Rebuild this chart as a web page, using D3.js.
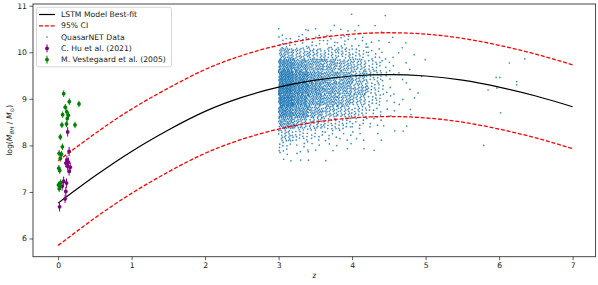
<!DOCTYPE html>
<html>
<head>
<meta charset="utf-8">
<script src="https://cdn.jsdelivr.net/npm/d3@7"></script>
<style>
  body { margin: 0; background: #fff; }
  svg { display: block; font-family: "DejaVu Sans", sans-serif; }
</style>
</head>
<body>
<svg id="chart" width="598" height="285"></svg>
<script>
// model curve, sampled every 0.5 in z
var zGrid = [0, 0.5, 1, 1.5, 2, 2.5, 3, 3.5, 4, 4.5, 5, 5.5, 6, 6.5, 7];
var bestFit = [6.76, 7.34, 7.87, 8.33, 8.73, 9.03, 9.25, 9.40, 9.49, 9.52, 9.49, 9.40, 9.25, 9.06, 8.83];
var ciUpper = [7.67, 8.25, 8.78, 9.23, 9.63, 9.93, 10.15, 10.30, 10.39, 10.42, 10.39, 10.30, 10.15, 9.96, 9.73];
var ciLower = [5.85, 6.44, 6.97, 7.43, 7.83, 8.13, 8.35, 8.50, 8.59, 8.62, 8.59, 8.50, 8.35, 8.16, 7.93];

// QuasarNET cloud, counts per cell (one row per z bin, mass bins top -> bottom)
var cloudZEdges = [3.0, 3.2, 3.4, 3.6, 3.8, 4.0, 4.2, 4.4, 4.6, 4.8, 5.0];
var cloudMEdges = [10.85, 10.6, 10.35, 10.1, 9.85, 9.6, 9.35, 9.1, 8.85, 8.6, 8.35, 8.1, 7.85, 7.6];
var cloudCounts = [
  [0, 2, 10, 42, 85, 115, 125, 118, 92, 58, 26, 10, 4],
  [0, 2, 8, 30, 62, 88, 92, 86, 66, 36, 15, 6, 2],
  [0, 3, 8, 25, 48, 65, 68, 62, 45, 25, 10, 4, 1],
  [0, 3, 8, 22, 42, 52, 55, 48, 34, 18, 7, 3, 1],
  [1, 3, 8, 20, 38, 46, 46, 40, 28, 14, 5, 2, 0],
  [0, 2, 6, 15, 28, 34, 34, 28, 18, 9, 4, 1, 0],
  [0, 1, 3, 8, 14, 17, 17, 14, 9, 5, 2, 1, 0],
  [1, 1, 2, 3, 5, 5, 5, 4, 3, 1, 1, 0, 0],
  [0, 0, 1, 2, 2, 2, 2, 2, 1, 1, 1, 0, 0],
  [0, 0, 0, 1, 1, 1, 1, 1, 1, 0, 0, 0, 0]
];
// lone QuasarNET points past the main cloud
var outlierZ = [5.79, 5.85, 5.96, 5.97, 6.01, 6.02, 6.14, 6.24, 6.24, 6.35];
var outlierM = [8.00, 9.19, 9.46, 9.23, 9.46, 8.70, 9.77, 9.37, 9.30, 9.86];

// C. Hu et al. (2021)
var huZ = [0.130, 0.150, 0.120, 0.105, 0.140, 0.130, 0.165, 0.150, 0.075, 0.115, 0.055, 0.105, 0.095, 0.020];
var huM = [8.29, 7.87, 7.69, 7.62, 7.64, 7.55, 7.53, 7.44, 7.23, 7.19, 7.12, 7.01, 6.85, 6.68];
var huErr = [0.10, 0.10, 0.09, 0.09, 0.10, 0.09, 0.10, 0.09, 0.10, 0.10, 0.09, 0.10, 0.09, 0.10];

// M. Vestegaard et al. (2005)
var vestZ = [0.076, 0.152, 0.284, 0.098, 0.118, 0.062, 0.140, 0.125, 0.052, 0.115, 0.230, 0.030, 0.058, 0.015, 0.045, 0.030, 0.010, 0.022, 0.005, 0.025, 0.015, 0.035];
var vestM = [9.11, 8.94, 8.89, 8.82, 8.72, 8.66, 8.65, 8.58, 8.44, 8.46, 8.44, 8.18, 7.97, 7.83, 7.81, 7.72, 7.51, 7.46, 7.15, 7.11, 7.07, 7.20];
var vestErr = 0.07;

var xTicks = [0, 1, 2, 3, 4, 5, 6, 7];
var yTicks = [6, 7, 8, 9, 10, 11];

var plotLeft = 33, plotRight = 595.6, plotTop = 4, plotBottom = 256.7;

var svg = d3.select('#chart');
var x = d3.scaleLinear().domain([-0.3415, 7.313]).range([plotLeft, plotRight]);
var y = d3.scaleLinear().domain([5.609, 11.037]).range([plotBottom, plotTop]);

svg.append('clipPath').attr('id', 'plotclip')
  .append('rect')
  .attr('x', plotLeft).attr('y', plotTop)
  .attr('width', plotRight - plotLeft).attr('height', plotBottom - plotTop);

var plot = svg.append('g').attr('clip-path', 'url(#plotclip)');

// spread each cell's count over the cell; one running R2 sequence
// so neighbouring cells don't repeat the same pattern
var cloud = [];
var seq = 0;
cloudCounts.forEach(function(col, i) {
  col.forEach(function(n, j) {
    for (var k = 0; k < n; k++) {
      seq++;
      var u = (0.5 + seq * 0.7548776662) % 1;
      var v = (0.5 + seq * 0.5698402910) % 1;
      cloud.push({
        z: cloudZEdges[i] + u * (cloudZEdges[i + 1] - cloudZEdges[i]),
        m: cloudMEdges[j + 1] + v * (cloudMEdges[j] - cloudMEdges[j + 1])
      });
    }
  });
});
outlierZ.forEach(function(z, i) { cloud.push({ z: z, m: outlierM[i] }); });

plot.append('g').selectAll('circle').data(cloud).enter()
  .append('circle')
  .attr('cx', function(d) { return x(d.z); })
  .attr('cy', function(d) { return y(d.m); })
  .attr('r', 0.85)
  .attr('fill', '#1f77b4')
  .attr('opacity', 0.85);

var line = d3.line().curve(d3.curveNatural)
  .x(function(d, i) { return x(zGrid[i]); })
  .y(function(d) { return y(d); });

plot.append('path').datum(ciUpper).attr('d', line)
  .attr('fill', 'none').attr('stroke', '#ff0000').attr('stroke-width', 1.3)
  .attr('stroke-dasharray', '4,1.8');
plot.append('path').datum(ciLower).attr('d', line)
  .attr('fill', 'none').attr('stroke', '#ff0000').attr('stroke-width', 1.3)
  .attr('stroke-dasharray', '4,1.8');
plot.append('path').datum(bestFit).attr('d', line)
  .attr('fill', 'none').attr('stroke', '#000').attr('stroke-width', 1.2);

function drawErrorbars(zs, ms, errs, color) {
  var pts = zs.map(function(z, i) {
    return { z: z, m: ms[i], e: Array.isArray(errs) ? errs[i] : errs };
  });
  var g = plot.append('g');
  g.selectAll('line').data(pts).enter().append('line')
    .attr('x1', function(d) { return x(d.z); })
    .attr('x2', function(d) { return x(d.z); })
    .attr('y1', function(d) { return y(d.m - d.e); })
    .attr('y2', function(d) { return y(d.m + d.e); })
    .attr('stroke', color).attr('stroke-width', 1);
  g.selectAll('circle').data(pts).enter().append('circle')
    .attr('cx', function(d) { return x(d.z); })
    .attr('cy', function(d) { return y(d.m); })
    .attr('r', 1.9)
    .attr('fill', color);
}
drawErrorbars(huZ, huM, huErr, 'purple');
drawErrorbars(vestZ, vestM, vestErr, 'green');

// axes
var xAxis = svg.append('g')
  .attr('transform', 'translate(0,' + plotBottom + ')')
  .call(d3.axisBottom(x).tickValues(xTicks).tickFormat(d3.format('d')).tickSize(3.5).tickPadding(2.5));
var yAxis = svg.append('g')
  .attr('transform', 'translate(' + plotLeft + ',0)')
  .call(d3.axisLeft(y).tickValues(yTicks).tickFormat(d3.format('d')).tickSize(3.5).tickPadding(2.5));
[xAxis, yAxis].forEach(function(a) {
  a.select('.domain').remove();
  a.selectAll('line').attr('stroke', '#333').attr('stroke-width', 0.8);
  a.selectAll('text').attr('fill', '#222')
    .style('font-family', '"DejaVu Sans", sans-serif').style('font-size', '7.7px');
});

svg.append('rect')
  .attr('x', plotLeft).attr('y', plotTop)
  .attr('width', plotRight - plotLeft).attr('height', plotBottom - plotTop)
  .attr('fill', 'none').attr('stroke', '#333').attr('stroke-width', 0.9);

svg.append('text')
  .attr('x', (plotLeft + plotRight) / 2).attr('y', 278)
  .attr('text-anchor', 'middle')
  .attr('font-size', '7.7px').attr('fill', '#222')
  .text('z');

var ylab = svg.append('text')
  .attr('transform', 'translate(12,' + (plotTop + plotBottom) / 2 + ') rotate(-90)')
  .attr('text-anchor', 'middle')
  .attr('font-size', '7.7px').attr('fill', '#222');
ylab.append('tspan').text('log(');
ylab.append('tspan').attr('font-style', 'italic').text('M');
ylab.append('tspan').attr('font-style', 'italic').attr('font-size', '5.5px').attr('dy', 1.8).text('BH');
ylab.append('tspan').attr('dy', -1.8).text(' / ');
ylab.append('tspan').attr('font-style', 'italic').text('M');
ylab.append('tspan').attr('font-size', '5.5px').attr('dy', 1.8).text('\u2299');
ylab.append('tspan').attr('dy', -1.8).text(')');

// legend
var legend = svg.append('g');
legend.append('rect')
  .attr('x', 36.5).attr('y', 7.3).attr('width', 135).attr('height', 59.5).attr('rx', 2)
  .attr('fill', '#fff').attr('fill-opacity', 0.8)
  .attr('stroke', '#ccc').attr('stroke-width', 0.8);

var legendLabels = ['LSTM Model Best-fit', '95% CI', 'QuasarNET Data', 'C. Hu et al. (2021)', 'M. Vestegaard et al. (2005)'];
var rowY = function(i) { return 14.5 + i * 11.3; };

legend.append('line').attr('x1', 39).attr('x2', 55).attr('y1', rowY(0)).attr('y2', rowY(0))
  .attr('stroke', '#000').attr('stroke-width', 1.2);
legend.append('line').attr('x1', 39).attr('x2', 55).attr('y1', rowY(1)).attr('y2', rowY(1))
  .attr('stroke', '#ff0000').attr('stroke-width', 1.3).attr('stroke-dasharray', '4,1.8');
legend.append('circle').attr('cx', 47).attr('cy', rowY(2)).attr('r', 0.85)
  .attr('fill', '#1f77b4').attr('opacity', 0.85);
[['purple', 3], ['green', 4]].forEach(function(p) {
  legend.append('line').attr('x1', 47).attr('x2', 47)
    .attr('y1', rowY(p[1]) - 4).attr('y2', rowY(p[1]) + 4)
    .attr('stroke', p[0]).attr('stroke-width', 1);
  legend.append('circle').attr('cx', 47).attr('cy', rowY(p[1])).attr('r', 1.9).attr('fill', p[0]);
});

legend.selectAll('text.lbl').data(legendLabels).enter()
  .append('text').attr('class', 'lbl')
  .attr('x', 61).attr('y', function(d, i) { return rowY(i); })
  .attr('dy', '0.35em')
  .attr('font-size', '7.7px').attr('fill', '#222')
  .text(function(d) { return d; });
</script>
</body>
</html>
